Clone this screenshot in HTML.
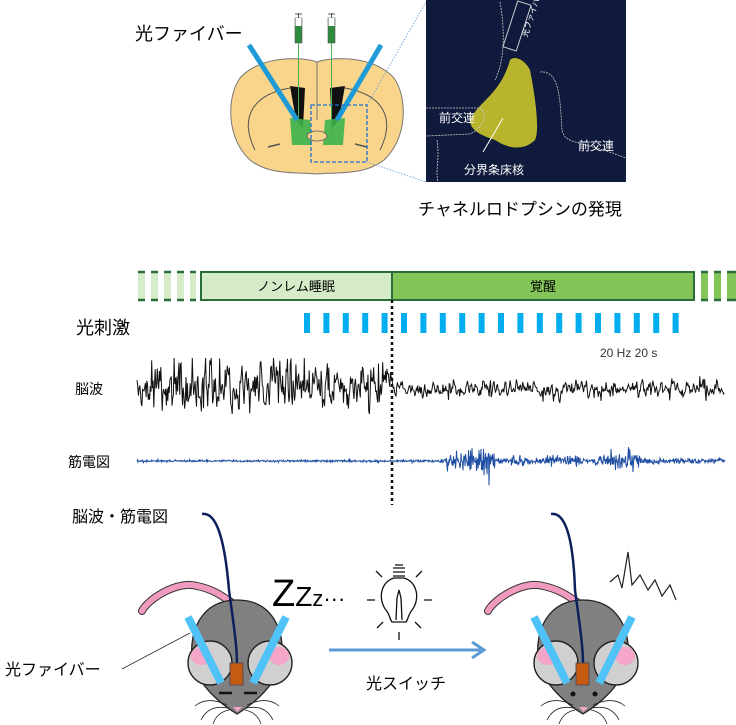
<!DOCTYPE html>
<html><head><meta charset="utf-8"><style>
html,body{margin:0;padding:0;background:#fff;}
svg{display:block;}
text{font-family:"Liberation Sans","Noto Sans CJK JP",sans-serif;}
</style></head><body>
<svg id="s" width="736" height="725" viewBox="0 0 736 725" xmlns="http://www.w3.org/2000/svg">
<text x="135" y="40" font-size="18">光ファイバー</text>
<text x="418" y="215" font-size="17">チャネルロドプシンの発現</text>
<path d="M317,62 C300,56 260,56 240,78 C225,100 228,140 250,160 C270,176 300,172 317,174 C334,172 364,176 384,160 C406,140 409,100 394,78 C374,56 334,56 317,62 Z" fill="#f9d48b" stroke="#777" stroke-width="1"/>
<path d="M317,62 L317,120" stroke="#777" stroke-width="1"/>
<path d="M255,150 C240,120 250,95 290,88 M380,150 C395,120 385,95 345,88" fill="none" stroke="#555" stroke-width="1"/>
<path d="M290,86 L305,88 L303,128 L296,120 Z M345,86 L330,88 L332,128 L339,120 Z" fill="#111"/>
<path d="M290,118 L310,120 L312,145 L292,145 Z M325,120 L345,118 L343,145 L323,145 Z" fill="#3cb44b" opacity="0.9"/>
<ellipse cx="317" cy="136" rx="10" ry="5" fill="#f9d48b" stroke="#555" stroke-width="0.8"/>
<path d="M268,147 L280,144 M355,144 L367,147" stroke="#555" stroke-width="1.5"/>
<g fill="#2e8b3e" stroke="#555" stroke-width="0.6">
<rect x="295" y="18" width="7" height="25"/><rect x="328" y="18" width="7" height="25"/>
</g>
<rect x="295.5" y="18" width="6" height="8" fill="#fff"/><rect x="328.5" y="18" width="6" height="8" fill="#fff"/>
<path d="M298.5,13 V18 M331.5,13 V18 M295,14 H302 M328,14 H335" stroke="#555" stroke-width="1"/>
<path d="M298.5,43 V135 M331.5,43 V135" stroke="#4caf50" stroke-width="1"/>
<path d="M249,45 L297,120 M381,45 L337,120" stroke="#1e9bd7" stroke-width="5"/>
<rect x="311" y="105" width="56" height="57" fill="none" stroke="#1e6fd0" stroke-width="1.3" stroke-dasharray="4,2"/>
<path d="M367,105 L426,2 M367,162 L426,182" stroke="#5b9bd5" stroke-width="0.8" stroke-dasharray="1.5,1.5"/>
<rect x="426" y="0" width="200" height="182" fill="#0f1a3c"/>
<path d="M470,120 C480,100 500,95 510,60 C515,55 525,60 530,70 C535,95 540,130 535,140 C525,150 510,150 495,140 C480,135 470,130 470,120 Z" fill="#d6d02a" opacity="0.85"/>
<g fill="none" stroke="#ccc" stroke-width="0.8" stroke-dasharray="2,1">
<path d="M426,108 L480,108 C490,115 480,130 470,134 L426,136"/>
<path d="M540,72 C560,70 560,100 562,130 C565,145 580,140 626,158"/>
<path d="M500,2 C505,30 505,60 495,80"/>
<path d="M437,140 C440,160 435,170 438,182"/>
</g>
<rect x="510" y="2" width="14" height="48" fill="none" stroke="#ccc" stroke-width="1" transform="rotate(18 517 26)"/>
<text x="513" y="42" font-size="8" fill="#fff" transform="rotate(-72 517 30)">光ファイバー</text>
<path d="M483,152 L503,118" stroke="#fff" stroke-width="1"/>
<text x="439" y="122" font-size="12" fill="#fff">前交連</text>
<text x="578" y="150" font-size="12" fill="#fff">前交連</text>
<text x="464" y="174" font-size="12" fill="#fff">分界条床核</text>
<g fill="#d6ecc9"><rect x="138" y="272" width="7" height="28"/><rect x="151" y="272" width="7" height="28"/><rect x="164" y="272" width="7" height="28"/><rect x="177" y="272" width="7" height="28"/><rect x="190" y="272" width="6" height="28"/></g>
<g stroke="#2a6e3a" stroke-width="2.5"><path d="M138,272 h7 M151,272 h7 M164,272 h7 M177,272 h7 M190,272 h6 M138,300 h7 M151,300 h7 M164,300 h7 M177,300 h7 M190,300 h6"/></g>
<rect x="201" y="272" width="191" height="28" fill="#d6ecc9" stroke="#2a6e3a" stroke-width="2"/>
<rect x="392" y="272" width="302" height="28" fill="#84c55a" stroke="#2a6e3a" stroke-width="2"/>
<g fill="#84c55a"><rect x="701" y="272" width="7" height="28"/><rect x="714" y="272" width="7" height="28"/><rect x="727" y="272" width="9" height="28"/></g>
<path d="M701,272 h7 M714,272 h7 M727,272 h9 M701,300 h7 M714,300 h7 M727,300 h9" stroke="#2a6e3a" stroke-width="2.5"/>
<text x="296" y="291" font-size="13" text-anchor="middle">ノンレム睡眠</text>
<text x="543" y="291" font-size="13" text-anchor="middle">覚醒</text>
<g id="pulses" fill="#00aeef"></g>
<text x="76" y="334" font-size="18">光刺激</text>
<text x="600" y="357" font-size="12" fill="#333">20 Hz 20 s</text>
<text x="75" y="394" font-size="14">脳波</text>
<text x="68" y="467" font-size="14">筋電図</text>
<path id="eeg" fill="none" stroke="#111" stroke-width="1"/>
<path id="emg" fill="none" stroke="#1f4ea3" stroke-width="1"/>
<path d="M392,300 V505" stroke="#111" stroke-width="2.5" stroke-dasharray="3,3"/>
<text x="72" y="522" font-size="16">脳波・筋電図</text>
<text x="5" y="675" font-size="16">光ファイバー</text>
<path d="M122,669 L190,633" stroke="#222" stroke-width="0.8"/>
<g id="m1"></g>
<text x="272" y="606" font-size="38" font-family="Liberation Sans">Z<tspan font-size="28">Z</tspan><tspan font-size="22">z</tspan><tspan font-size="22">···</tspan></text>
<g stroke="#111" stroke-width="1.3" fill="none">
<path d="M394,578 C380,582 378,600 386,610 C390,615 390,620 392,622 L406,622 C408,620 408,615 412,610 C420,600 418,582 404,578 Z" fill="#fff"/>
<path d="M393,568 h12 M393,572 h12 M393,576 h12 M395,565 h8"/>
<path d="M396,620 L397,598 L399,590 L401,598 L402,620"/>
<path d="M382,577 l-6,-6 M416,577 l6,-6 M375,600 h-8 M424,600 h8 M383,622 l-6,6 M415,622 l6,6 M399,632 v8"/>
</g>
<path d="M329,650 H482" stroke="#5b9bd5" stroke-width="3"/>
<path d="M472,642 L484,650 L472,658" fill="none" stroke="#5b9bd5" stroke-width="3"/>
<text x="366" y="689" font-size="16">光スイッチ</text>
<g id="m2"></g>
<path d="M610,582 L618,575 L622,588 L628,552 L632,585 L640,575 L648,590 L655,580 L662,596 L670,585 L676,600" fill="none" stroke="#222" stroke-width="1.2"/>
</svg>
<script>
var ns="http://www.w3.org/2000/svg";
var seed=7;function r(){seed=(seed*16807)%2147483647;return seed/2147483647;}
function g(){return (r()+r()+r()-1.5)/1.5;}
var p=document.getElementById('pulses');
for(var i=0;i<20;i++){var e=document.createElementNS(ns,'rect');e.setAttribute('x',304+i*19.4);e.setAttribute('y',313);e.setAttribute('width',6);e.setAttribute('height',20);p.appendChild(e);}
var d="",v=0;
for(var x=137;x<=725;x+=0.7){var a=x<392?30:11; v=v*0.35+g()*a*(r()<0.15?1.6:1); var c=x<392?386:389; if(v>28)v=28;if(v<-28)v=-28; d+=(x==137?"M":"L")+x.toFixed(1)+","+(c+v).toFixed(1);}
document.getElementById('eeg').setAttribute('d',d);
d="";
function amp(x){if(x<440)return 1.5;var a=4;if(x>445&&x<495)a=16;if(x>470&&x<490)a=22;if(x>510&&x<530)a=8;if(x>545&&x<580)a=9;if(x>595&&x<640)a=12;if(x>625&&x<635)a=18;return a;}
for(var x=137;x<=725;x+=0.5){var y=461+g()*amp(x)*(r()<0.1?1.8:1);d+=(x==137?"M":"L")+x.toFixed(1)+","+y.toFixed(1);}
document.getElementById('emg').setAttribute('d',d);
function mouse(id,cx,open,cab){
var G=document.getElementById(id);
var s='';
var tail='M'+(cx-95)+',611 C'+(cx-90)+',600 '+(cx-60)+',580 '+(cx-40)+',586 C'+(cx-20)+',590 '+(cx-10)+',600 '+(cx)+',606';
s+='<path d="'+tail+'" fill="none" stroke="#333" stroke-width="8" stroke-linecap="round"/>';
s+='<path d="'+tail+'" fill="none" stroke="#f09ac0" stroke-width="6" stroke-linecap="round"/>';
s+='<path d="M'+cx+',600 C'+(cx+35)+',600 '+(cx+48)+',630 '+(cx+45)+',660 C'+(cx+40)+',685 '+(cx+15)+',705 '+cx+',714 C'+(cx-15)+',705 '+(cx-40)+',685 '+(cx-45)+',660 C'+(cx-48)+',630 '+(cx-35)+',600 '+cx+',600 Z" fill="#808080" stroke="#222" stroke-width="1.3"/>';
[-27,33].forEach(function(o){var ex=cx+o;var dir=o<0?-1:1;
s+='<circle cx="'+ex+'" cy="663" r="22" fill="#d0d0d0" stroke="#222" stroke-width="1.2"/>';
s+='<ellipse cx="'+(ex+dir*9)+'" cy="656" rx="10" ry="9" fill="#f4a6c8"/>';
s+='<circle cx="'+ex+'" cy="663" r="22" fill="none" stroke="#222" stroke-width="1.2"/>';});
s+='<path d="M'+(cx-49)+',617 L'+(cx-16)+',683 M'+(cx+49)+',617 L'+(cx+16)+',683" stroke="#4fc3f7" stroke-width="8"/>';
s+='<path d="M'+(cab)+',514 C'+(cab+12)+',512 '+(cab+22)+',530 '+(cx-8)+',590 C'+(cx-4)+',620 '+(cx)+',645 '+(cx)+',664" fill="none" stroke="#0d1f5c" stroke-width="2.5"/>';
s+='<rect x="'+(cx-7)+'" y="663" width="13" height="22" fill="#c55a11" stroke="#445" stroke-width="0.8"/>';
if(open){s+='<circle cx="'+(cx-10)+'" cy="694" r="2.5" fill="#111"/><circle cx="'+(cx+12)+'" cy="694" r="2.5" fill="#111"/>';}
else{s+='<path d="M'+(cx-18)+',693 h13 M'+(cx+7)+',693 h13" stroke="#111" stroke-width="2.5"/>';}
s+='<path d="M'+(cx-4)+',707 h9 l-4.5,5 z" fill="#f4a6c8"/>';
s+='<path d="M'+(cx-10)+',705 C'+(cx-25)+',698 '+(cx-35)+',700 '+(cx-42)+',706 M'+(cx-10)+',708 C'+(cx-25)+',705 '+(cx-32)+',712 '+(cx-36)+',720 M'+(cx-8)+',710 C'+(cx-18)+',712 '+(cx-22)+',718 '+(cx-24)+',724 M'+(cx+10)+',705 C'+(cx+25)+',698 '+(cx+35)+',700 '+(cx+42)+',706 M'+(cx+10)+',708 C'+(cx+25)+',705 '+(cx+32)+',712 '+(cx+36)+',720 M'+(cx+8)+',710 C'+(cx+18)+',712 '+(cx+22)+',718 '+(cx+24)+',724" fill="none" stroke="#222" stroke-width="0.8"/>';
G.innerHTML=s;}
mouse('m1',237,false,202);
mouse('m2',583,true,551);
</script>
</body></html>
